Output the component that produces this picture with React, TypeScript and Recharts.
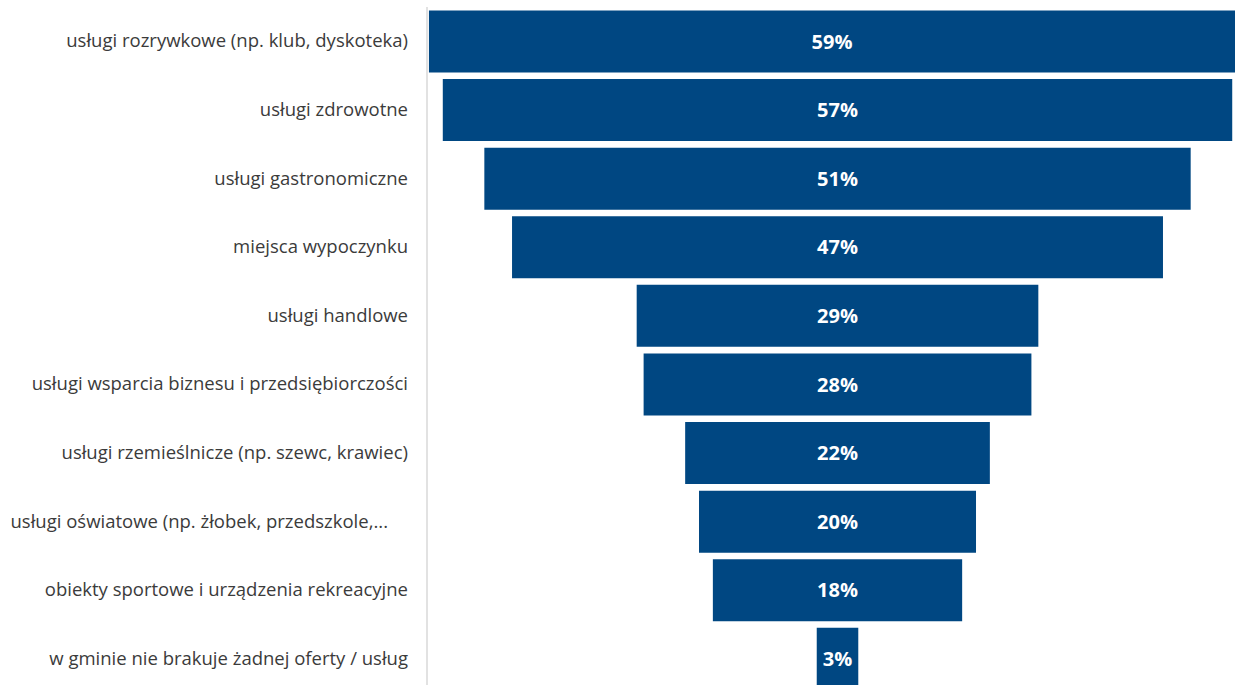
import { BarChart, Bar, XAxis, YAxis, LabelList } from "recharts";

const categories = [
    "usługi rozrywkowe (np. klub, dyskoteka)",
    "usługi zdrowotne",
    "usługi gastronomiczne",
    "miejsca wypoczynku",
    "usługi handlowe",
    "usługi wsparcia biznesu i przedsiębiorczości",
    "usługi rzemieślnicze (np. szewc, krawiec)",
    "usługi oświatowe (np. żłobek, przedszkole,...",
    "obiekty sportowe i urządzenia rekreacyjne",
    "w gminie nie brakuje żadnej oferty / usług",
];

const values = [59, 57, 51, 47, 29, 28, 22, 20, 18, 3];

// funnel: invisible spacer pushes each bar so all are centred
const CENTER = 29.64;
const X_MAX = 58.34;

const data = categories.map((name, i) => ({
    name,
    value: values[i],
    spacer: CENTER - values[i] / 2,
}));

const BLUE = "#004782";

const Tick = (props: any) => {
    const { x, y, payload } = props;
    const cut = payload.value.endsWith("...");
    return (
        <text
            x={x}
            y={y}
            dx={cut ? -20 : 0}
            dy={6}
            textAnchor="end"
            fill="#3b3b3b"
            fontSize={18.5}
            fontFamily="Open Sans, sans-serif"
        >
            {payload.value}
        </text>
    );
};

export default function App() {
    return (
        <div
            style={{
                position: "fixed",
                left: 0,
                top: 0,
                width: 1235,
                height: 685,
                overflow: "hidden",
                background: "#fff",
            }}
        >
            <BarChart
                width={1235}
                height={693}
                data={data}
                layout="vertical"
                margin={{ top: 7, right: 0, bottom: 0, left: 0 }}
                barCategoryGap="5%"
            >
                <XAxis type="number" hide domain={[0, X_MAX]} allowDataOverflow />
                <YAxis
                    type="category"
                    dataKey="name"
                    width={427}
                    tickSize={0}
                    tickMargin={19}
                    axisLine={{ stroke: "#d9d9d9", strokeWidth: 1.5 }}
                    tickLine={false}
                    interval={0}
                    tick={<Tick />}
                />
                <Bar dataKey="spacer" stackId="a" fill="transparent" isAnimationActive={false} />
                <Bar dataKey="value" stackId="a" fill={BLUE} isAnimationActive={false}>
                    <LabelList
                        dataKey="value"
                        position="center"
                        formatter={(v: any) => `${v}%`}
                        fill="#ffffff"
                        fontSize={20}
                        fontWeight="bold"
                        fontFamily="Open Sans, sans-serif"
                    />
                </Bar>
            </BarChart>
        </div>
    );
}
